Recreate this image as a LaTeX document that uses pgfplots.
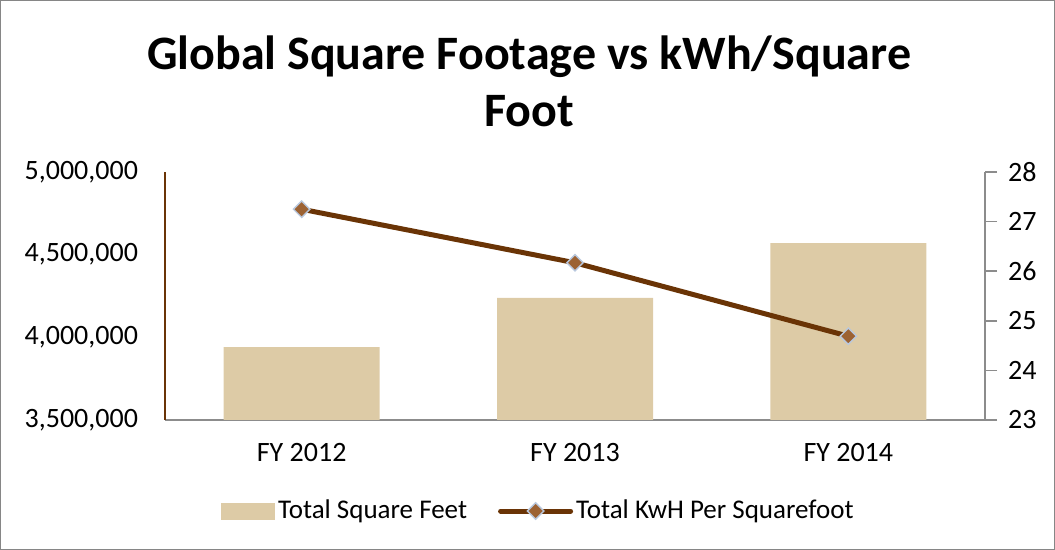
\documentclass[border=0pt]{standalone}
\usepackage{fontspec}
\setmainfont{Carlito}
\usepackage{pgfplots}
\pgfplotsset{compat=1.18}

\definecolor{barcol}{RGB}{221,203,166}
\definecolor{linecol}{RGB}{106,52,6}
\definecolor{markcol}{RGB}{156,98,51}
\definecolor{markedge}{RGB}{185,200,222}
\definecolor{axgray}{RGB}{140,140,140}
\definecolor{bordergray}{RGB}{134,134,134}

\pgfplotsset{
  common/.style={
    at={(82.5pt,-210pt)}, anchor=south west,
    scale only axis, width=410pt, height=124pt,
    xmin=-0.5, xmax=2.5,
    /pgf/number format/assume math mode=true,
    ticklabel style={font=\fontsize{14}{16}\selectfont},
  },
  linelegend/.style={
    legend image code/.code={\draw[mark repeat=2,mark phase=2,##1] plot coordinates {(0pt,0pt)(17.5pt,0pt)(35pt,0pt)};}
  },
}

\begin{document}
\begin{tikzpicture}
\useasboundingbox (0,0) rectangle (527.5pt,-275pt);
\draw[bordergray, line width=0.6pt] (0.3pt,-0.3pt) rectangle (527.2pt,-274.7pt);

\node[font=\fontsize{24}{28}\selectfont\bfseries, anchor=base] at (264.5pt,-35pt) {Global Square Footage vs kWh/Square};
\node[font=\fontsize{24}{28}\selectfont\bfseries, anchor=base] at (264.5pt,-63.5pt) {Foot};

% bars: left axis
\begin{axis}[
  common,
  ymin=3500000, ymax=5000000,
  axis x line*=bottom, axis y line*=left,
  x axis line style={axgray, line width=1pt, -},
  y axis line style={linecol, line width=0.8pt, -},
  xtick={0,1,2}, xticklabels={FY 2012, FY 2013, FY 2014},
  ytick={3500000,4000000,4500000,5000000},
  major tick length=0pt,
  scaled y ticks=false,
  yticklabel style={/pgf/number format/fixed, /pgf/number format/1000 sep={,}, xshift=-10pt},
  xticklabel style={yshift=-8pt},
  ybar, bar width=78pt,
]
\addplot[fill=barcol, draw=none] coordinates {(0,3941000) (1,4238000) (2,4570000)};
\end{axis}

% line: right axis
\begin{axis}[
  common,
  ymin=23, ymax=28,
  axis y line*=right, axis x line=none,
  y axis line style={axgray, line width=0.8pt, -},
  ytick={23,24,25,26,27,28},
  tick align=outside, major tick length=6pt,
  ytick style={axgray, line width=0.8pt},
  yticklabel style={xshift=2pt},
  legend columns=2,
  legend style={at={(0.456,-0.367)}, anchor=center, draw=none, fill=none,
    font=\fontsize{13.5}{15}\selectfont,
    nodes={inner sep=1.5pt}, /tikz/every even column/.append style={column sep=14pt}},
]
\addlegendimage{legend image code/.code={\fill[barcol] (0pt,-4pt) rectangle (26.5pt,4pt);}}
\addlegendentry{Total Square Feet}
\addplot[linecol, line width=2.5pt, line cap=round, mark=square*, mark size=2.9pt,
  mark options={rotate=45, fill=markcol, draw=markedge, line width=0.7pt}, linelegend]
  coordinates {(0,27.25) (1,26.17) (2,24.69)};
\addlegendentry{Total KwH Per Squarefoot}
\end{axis}
\end{tikzpicture}
\end{document}
